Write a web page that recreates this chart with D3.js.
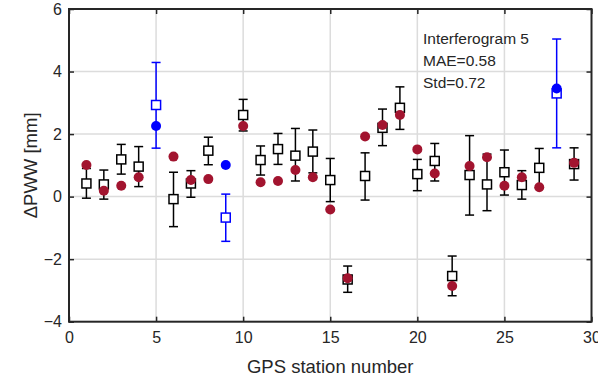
<!DOCTYPE html>
<html>
<head>
<meta charset="utf-8">
<script src="https://cdn.jsdelivr.net/npm/d3@7"></script>
<style>
  html, body { margin: 0; padding: 0; background: #fff; }
  svg { display: block; }
  text { font-family: "Liberation Sans", Arial, sans-serif; fill: #262626; }
</style>
</head>
<body>
<svg id="chart" width="598" height="385"></svg>
<script>
// ---- data ----
const stations = [1,2,3,4,5,6,7,8,9,10,11,12,13,14,15,16,17,18,19,20,21,22,23,24,25,26,27,28,29];
// square markers (with error bars)
const squareValues = [0.42,0.39,1.19,0.96,2.93,-0.08,0.42,1.47,-0.67,2.61,1.17,1.52,1.31,1.44,0.53,-2.65,0.66,2.20,2.84,0.72,1.14,-2.54,0.69,0.39,0.78,0.37,0.92,3.30,1.04];
const errTop      = [0.90,0.85,1.67,1.60,4.29,0.78,0.83,1.90,0.08,3.11,1.62,2.02,2.18,2.13,1.22,-2.22,1.40,2.80,3.51,1.19,1.70,-1.90,1.95,1.36,1.49,0.83,1.54,5.04,1.56];
const errBottom   = [-0.05,-0.08,0.72,0.32,1.55,-0.96,-0.02,1.02,-1.43,2.10,0.69,1.03,0.50,0.76,-0.16,-3.06,-0.11,1.63,2.15,0.19,0.50,-3.17,-0.59,-0.45,0.05,-0.08,0.28,1.56,0.53];
// filled dots
const dotValues   = [1.01,0.19,0.35,0.62,2.26,1.28,0.53,0.56,1.01,2.26,0.46,0.50,0.85,0.62,-0.41,-2.61,1.92,2.29,2.61,1.51,0.74,-2.86,0.98,1.26,0.35,0.62,0.30,3.46,1.08];
// stations highlighted in blue
const blueStations = [5, 9, 28];
const xTicks = [0,5,10,15,20,25,30];
const yTicks = [-4,-2,0,2,4,6];
const annotation = ["Interferogram 5", "MAE=0.58", "Std=0.72"];

// ---- layout ----
const svg = d3.select("#chart");
const L = 69, R = 591.5, T = 9, B = 321.7;
const x = d3.scaleLinear().domain([0, 30]).range([L, R]);
const y = d3.scaleLinear().domain([-4, 6]).range([B, T]);
const axisColor = "#262626";
const red = "#A2142F", blue = "#0000FF";

// grid
const grid = svg.append("g");
grid.selectAll("line.gx").data(xTicks.slice(1, -1)).join("line")
  .attr("x1", d => x(d)).attr("x2", d => x(d)).attr("y1", T).attr("y2", B)
  .attr("stroke", "#dcdcdc").attr("stroke-width", 1.5);
grid.selectAll("line.gy").data(yTicks.slice(1, -1)).join("line")
  .attr("y1", d => y(d)).attr("y2", d => y(d)).attr("x1", L).attr("x2", R)
  .attr("stroke", "#dcdcdc").attr("stroke-width", 1.5);

// axes with inward ticks
const tickLen = 5;
const xAxisB = d3.axisBottom(x).tickValues(xTicks).tickSizeInner(-tickLen).tickSizeOuter(0).tickPadding(10);
const xAxisT = d3.axisTop(x).tickValues(xTicks).tickSizeInner(-tickLen).tickSizeOuter(0).tickFormat("");
const yAxisL = d3.axisLeft(y).tickValues(yTicks).tickSizeInner(-tickLen).tickSizeOuter(0).tickPadding(7);
const yAxisR = d3.axisRight(y).tickValues(yTicks).tickSizeInner(-tickLen).tickSizeOuter(0).tickFormat("");

function styleAxis(g) {
  g.select(".domain").remove();
  g.selectAll(".tick line").attr("stroke", axisColor).attr("stroke-width", 1.5);
  g.selectAll(".tick text").attr("font-size", 16).attr("fill", axisColor)
    .attr("font-family", '"Liberation Sans", Arial, sans-serif');
}
svg.append("g").attr("transform", `translate(0,${B})`).call(xAxisB).call(styleAxis);
svg.append("g").attr("transform", `translate(0,${T})`).call(xAxisT).call(styleAxis);
svg.append("g").attr("transform", `translate(${L},0)`).call(yAxisL).call(styleAxis);
svg.append("g").attr("transform", `translate(${R},0)`).call(yAxisR).call(styleAxis);

// frame
svg.append("rect").attr("x", L).attr("y", T).attr("width", R - L).attr("height", B - T)
  .attr("fill", "none").attr("stroke", axisColor).attr("stroke-width", 2);

// data records
const rows = stations.map((s, i) => ({
  s, sq: squareValues[i], top: errTop[i], bot: errBottom[i], dot: dotValues[i],
  blue: blueStations.includes(s)
}));

// error bars + squares
const eb = svg.append("g");
const cap = 4.5;
rows.forEach(r => {
  const c = r.blue ? blue : "#000";
  const g = eb.append("g").attr("stroke", c).attr("stroke-width", 1.5).attr("fill", "none");
  g.append("line").attr("x1", x(r.s)).attr("x2", x(r.s)).attr("y1", y(r.top)).attr("y2", y(r.bot));
  g.append("line").attr("x1", x(r.s) - cap).attr("x2", x(r.s) + cap).attr("y1", y(r.top)).attr("y2", y(r.top));
  g.append("line").attr("x1", x(r.s) - cap).attr("x2", x(r.s) + cap).attr("y1", y(r.bot)).attr("y2", y(r.bot));
  const sz = 9;
  g.append("rect").attr("x", x(r.s) - sz / 2).attr("y", y(r.sq) - sz / 2)
    .attr("width", sz).attr("height", sz).attr("fill", "#fff");
});

// dots
svg.append("g").selectAll("circle").data(rows).join("circle")
  .attr("cx", d => x(d.s)).attr("cy", d => y(d.dot)).attr("r", 5)
  .attr("fill", d => d.blue ? blue : red);

// annotation
svg.append("g").selectAll("text").data(annotation).join("text")
  .attr("x", 423).attr("y", (d, i) => 44 + i * 22)
  .attr("font-size", 15.5).text(d => d);

// axis labels
svg.append("text").attr("x", (L + R) / 2).attr("y", 373).attr("text-anchor", "middle")
  .attr("font-size", 18.5).text("GPS station number");
svg.append("text").attr("transform", `translate(37,${(T + B) / 2}) rotate(-90)`)
  .attr("text-anchor", "middle").attr("font-size", 18.5).text("ΔPWW [mm]");
</script>
</body>
</html>
